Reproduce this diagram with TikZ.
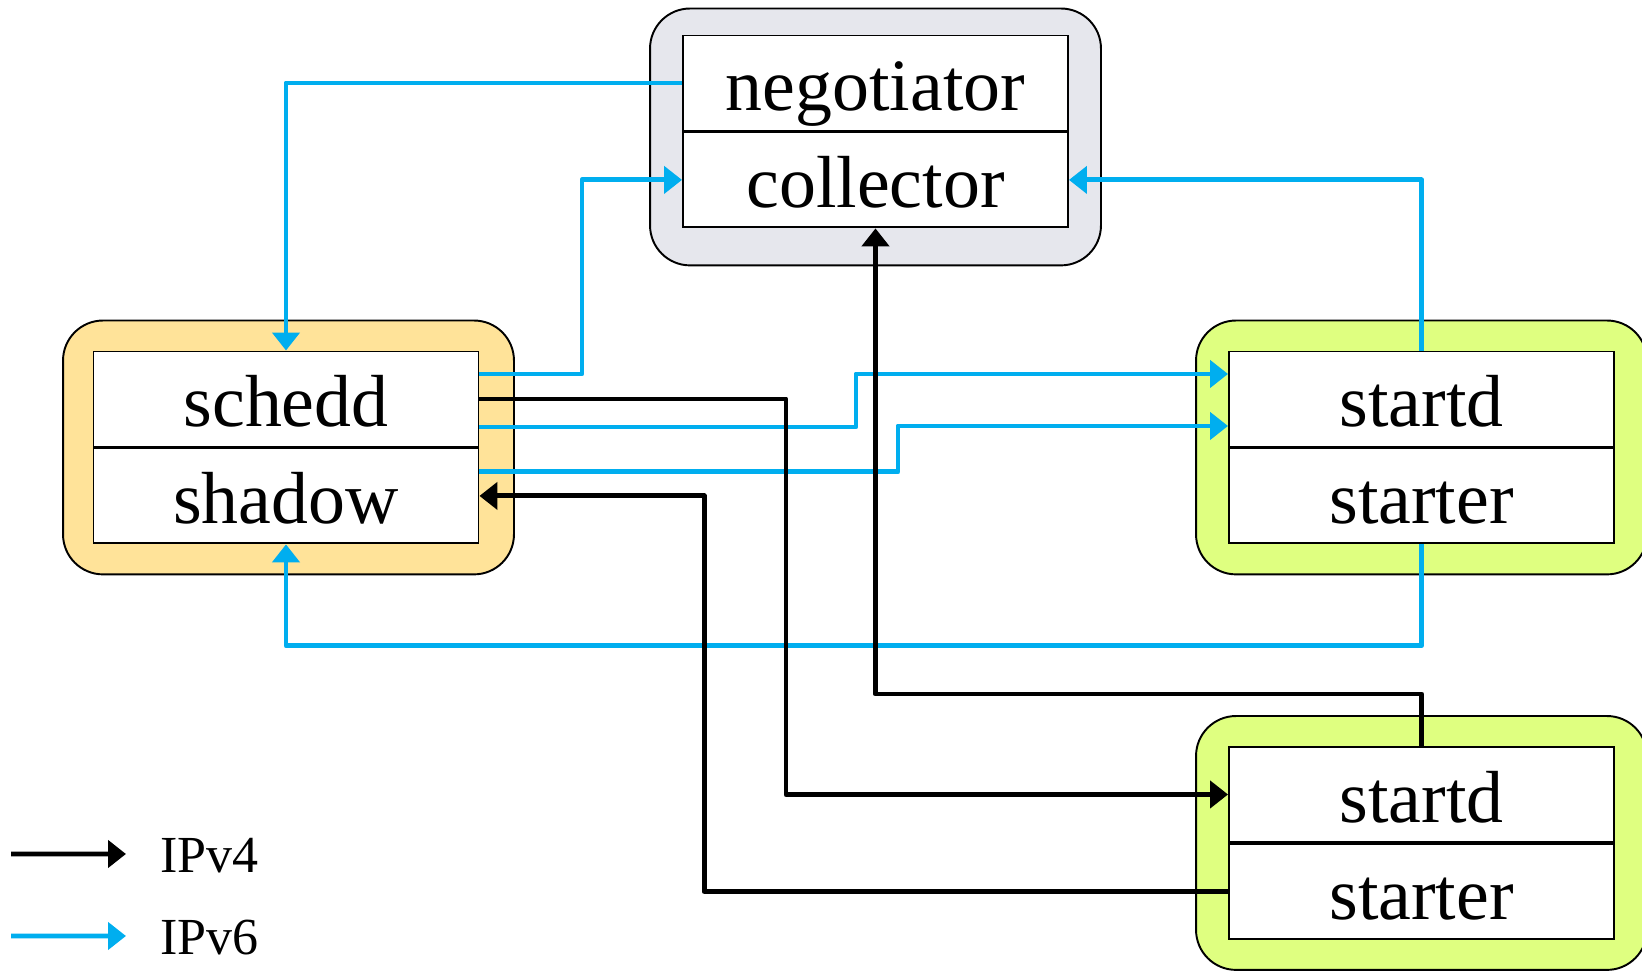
\documentclass[tikz,border=0pt]{standalone}
\usepackage{fontspec}
\setmainfont{Liberation Serif}
\usetikzlibrary{arrows.meta,positioning,fit,backgrounds}

\definecolor{vsix}{RGB}{0,174,239}
\definecolor{cmgray}{RGB}{230,231,237}
\definecolor{subyellow}{RGB}{255,227,153}
\definecolor{exgreen}{RGB}{223,255,128}

\begin{document}
\begin{tikzpicture}[
		part/.style={draw, line width=1.1pt, fill=white, minimum width=7.7cm, minimum height=1.9cm,
			inner sep=0pt, text height=1.12cm, text depth=0pt, font=\fontsize{42}{50}\selectfont},
		host/.style={draw, line width=1.1pt, rounded corners=0.8cm, inner xsep=0.64cm, inner ysep=0.6cm},
		ipfour/.style={line width=2.8pt, line join=round, -{Triangle[length=0.36cm,width=0.54cm]}},
		ipsix/.style={ipfour, vsix}
	]
		\useasboundingbox (0,0) rectangle (32.84,19.44);

		\coordinate (cm) at (17.51,17.78);
		\coordinate (sub) at (5.72,11.46);
		\coordinate (exa) at (28.43,11.46);
		\coordinate (exb) at (28.43,3.55);

		% daemons
		\node [part] (neg) at (cm) {negotiator};
		\node [part, below=0pt of neg] (coll) {collector};
		\node [part] (schedd) at (sub) {schedd};
		\node [part, below=0pt of schedd] (shadow) {shadow};
		\node [part] (startdA) at (exa) {startd};
		\node [part, below=0pt of startdA] (starterA) {starter};
		\node [part] (startdB) at (exb) {startd};
		\node [part, below=0pt of startdB] (starterB) {starter};

		% machines
		\begin{scope}[on background layer]
			\node [host, fill=cmgray, fit=(neg)(coll), inner ysep=0.63cm, yshift=-0.11cm] (cmhost) {};
			\node [host, fill=subyellow, fit=(schedd)(shadow), xshift=0.05cm] (subhost) {};
			\node [host, fill=exgreen, fit=(startdA)(starterA)] (exahost) {};
			\node [host, fill=exgreen, fit=(startdB)(starterB)] (exbhost) {};
		\end{scope}

		% IPv6 traffic
		\draw [ipsix] (neg.west) -| (schedd.north);
		\draw [ipsix] ([yshift=5mm]schedd.east) -- ++(2.05,0) |- (coll.west);
		\draw [ipsix] (startdA.north) |- (coll.east);
		\draw [ipsix] ([yshift=-5.6mm]schedd.east) -- ++(7.53,0) |- ([yshift=5mm]startdA.west);
		\draw [ipsix] ([yshift=4.8mm]shadow.east) -- ++(8.37,0) |- ([yshift=-5.4mm]startdA.west);
		\draw [ipsix] (starterA.south) -- ++(0,-2.03) -| (shadow.south);

		% IPv4 traffic
		\draw [ipfour] (schedd.east) -- ++(6.13,0) |- (startdB.west);
		\draw [ipfour] (starterB.west) -- ++(-10.48,0) |- (shadow.east);
		\draw [ipfour] (startdB.north) -- ++(0,1.04) -| (coll.south);

		% legend
		\coordinate (v4s) at (0.22,2.36);
		\coordinate (v6s) at (0.22,0.72);
		\node [anchor=west, inner sep=0pt, font=\fontsize{29.6}{36}\selectfont] (v4) at (3.2,2.32) {IPv4};
		\node [anchor=west, inner sep=0pt, font=\fontsize{29.6}{36}\selectfont] (v6) at (3.2,0.68) {IPv6};
		\draw [ipfour] (v4s) -- ([xshift=-6.8mm,yshift=0.4mm]v4.west);
		\draw [ipsix] (v6s) -- ([xshift=-6.8mm,yshift=0.4mm]v6.west);
	\end{tikzpicture}
\end{document}
